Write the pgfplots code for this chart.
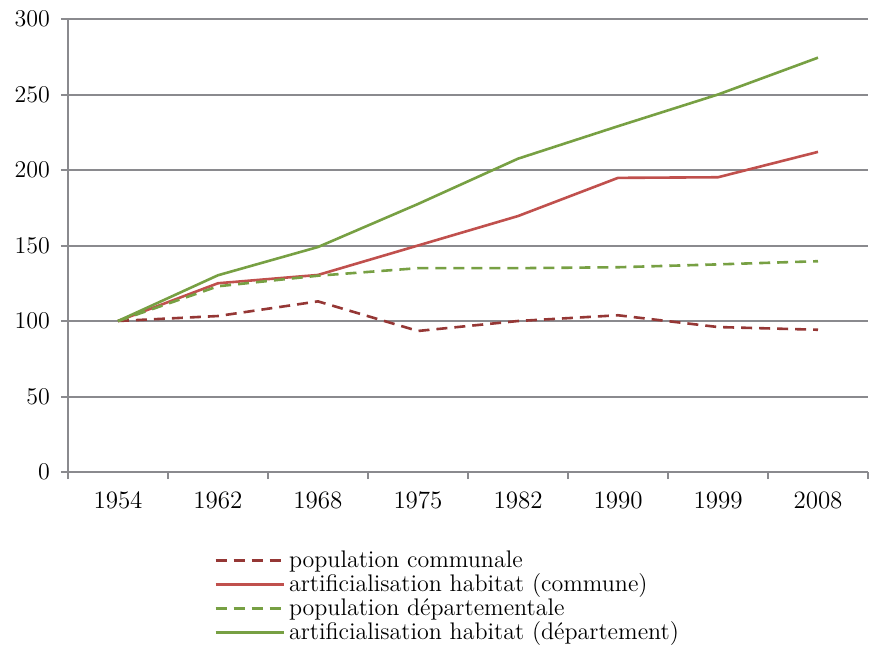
\documentclass[border=0pt]{standalone}
\usepackage{pgfplots}
\pgfplotsset{compat=1.18}

\definecolor{popcom}{HTML}{953735}
\definecolor{artcom}{HTML}{C0504D}
\definecolor{dept}{HTML}{77A043}
\definecolor{gridgray}{HTML}{8A8A8E}

\begin{document}
\begin{tikzpicture}
\useasboundingbox (-34pt,-91.5pt) rectangle (403.5pt,236pt);
\begin{axis}[
  at={(0,0)}, anchor=south west,
  scale only axis,
  width=400pt, height=226.5pt,
  xmin=-0.5, xmax=7.5,
  ymin=0, ymax=300,
  xtick={0,...,7},
  xticklabels={1954,1962,1968,1975,1982,1990,1999,2008},
  minor xtick={-0.5,0.5,...,7.5},
  ytick={0,50,...,300},
  axis x line*=bottom,
  axis y line*=left,
  axis line style={gridgray, line width=1pt, -},
  tick align=outside,
  major tick length=3.5pt,
  minor tick length=3.5pt,
  x tick style={draw=none},
  minor x tick style={draw=gridgray, line width=1pt},
  y tick style={draw=gridgray, line width=1pt},
  ymajorgrids,
  major grid style={gridgray, line width=1pt},
  tick label style={font=\fontsize{12.5}{14}\selectfont},
  xticklabel style={yshift=-3pt},
  yticklabel style={xshift=-2pt},
  legend style={draw=none, at={(0.175,-0.155)}, anchor=north west,
    font=\fontsize{12}{13}\selectfont, row sep=-2.2pt,
    /tikz/every even column/.append style={column sep=4pt}},
  legend cell align=left,
  legend image code/.code={\draw[#1] (0pt,0pt) -- (34pt,0pt);},
  every axis plot/.append style={line width=1.3pt},
]
\addplot[popcom, dash pattern=on 5.5pt off 3.5pt] coordinates
  {(0,100) (1,103.3) (2,113) (3,93.4) (4,100) (5,103.8) (6,96) (7,94.2)};
\addlegendentry{population communale}
\addplot[artcom] coordinates
  {(0,100) (1,125) (2,130.5) (3,150) (4,169.5) (5,194.8) (6,195.2) (7,212)};
\addlegendentry{artificialisation habitat (commune)}
\addplot[dept, dash pattern=on 5.5pt off 3.5pt] coordinates
  {(0,100) (1,123) (2,130) (3,135) (4,135) (5,135.6) (6,137.5) (7,139.6)};
\addlegendentry{population départementale}
\addplot[dept] coordinates
  {(0,100) (1,130.3) (2,149) (3,177.5) (4,207.5) (5,229) (6,250) (7,274.4)};
\addlegendentry{artificialisation habitat (département)}
\end{axis}
\end{tikzpicture}
\end{document}
